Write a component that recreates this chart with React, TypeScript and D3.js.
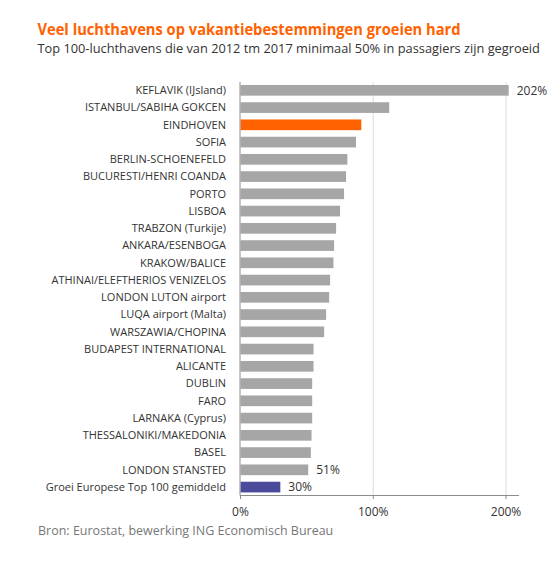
import React from "react";
import * as d3 from "d3";

const categories = [
  "KEFLAVIK (IJsland)",
  "ISTANBUL/SABIHA GOKCEN",
  "EINDHOVEN",
  "SOFIA",
  "BERLIN-SCHOENEFELD",
  "BUCURESTI/HENRI COANDA",
  "PORTO",
  "LISBOA",
  "TRABZON (Turkije)",
  "ANKARA/ESENBOGA",
  "KRAKOW/BALICE",
  "ATHINAI/ELEFTHERIOS VENIZELOS",
  "LONDON LUTON airport",
  "LUQA airport (Malta)",
  "WARSZAWIA/CHOPINA",
  "BUDAPEST INTERNATIONAL",
  "ALICANTE",
  "DUBLIN",
  "FARO",
  "LARNAKA (Cyprus)",
  "THESSALONIKI/MAKEDONIA",
  "BASEL",
  "LONDON STANSTED",
  "Groei Europese Top 100 gemiddeld",
];

const growth = [
  202, 112, 91, 87, 80.5, 79.5, 78, 75, 72, 70.5, 70, 67.5, 66.8, 64.5, 63,
  55, 55, 54, 54, 54, 53.5, 53, 51, 30,
];

const valueLabels: Record<string, string> = {
  "KEFLAVIK (IJsland)": "202%",
  "LONDON STANSTED": "51%",
  "Groei Europese Top 100 gemiddeld": "30%",
};

const xTicks = [0, 100, 200];

const title = "Veel luchthavens op vakantiebestemmingen groeien hard";
const subtitle =
  "Top 100-luchthavens die van 2012 tm 2017 minimaal 50% in passagiers zijn gegroeid";
const source = "Bron: Eurostat, bewerking ING Economisch Bureau";

const FONT = "'Open Sans', sans-serif";
const ORANGE = "#FF6200";
const BLUE = "#4B4B9B";
const GRAY = "#A6A6A6";

export default function App() {
  const W = 549;
  const H = 561;
  const x = d3.scaleLinear().domain([0, 210]).range([240.5, 519.3]);
  const y = d3
    .scaleBand<string>()
    .domain(categories)
    .range([81.7, 495.7])
    .paddingInner(0.38)
    .paddingOuter(0.19);

  const color = (c: string) =>
    c === "EINDHOVEN" ? ORANGE : c.startsWith("Groei") ? BLUE : GRAY;

  return (
    <svg
      width={W}
      height={H}
      style={{ position: "absolute", left: 0, top: 0, background: "#fff" }}
      fontFamily={FONT}
    >
      <text x={37.5} y={34.7} fill={ORANGE} fontSize={16.5} fontWeight={700} textLength={423} lengthAdjust="spacingAndGlyphs">
        {title}
      </text>
      <text x={37.5} y={53.3} fill="#333" fontSize={12.8}>
        {subtitle}
      </text>

      {xTicks.slice(1).map((t) => (
        <line key={t} x1={x(t)} x2={x(t)} y1={82} y2={495.5} stroke="#DDDDDD" strokeWidth={1} />
      ))}

      {categories.map((c, i) => (
        <rect
          key={c}
          x={x(0)}
          y={y(c)!}
          width={x(growth[i]) - x(0)}
          height={y.bandwidth()}
          fill={color(c)}
        />
      ))}

      <line x1={240} x2={240} y1={82} y2={495.5} stroke="#8C8C8C" strokeWidth={1} />
      <line x1={240} x2={519} y1={495.5} y2={495.5} stroke="#8C8C8C" strokeWidth={1} />
      {xTicks.map((t) => (
        <g key={t}>
          <line x1={x(t)} x2={x(t)} y1={495.5} y2={499} stroke="#8C8C8C" />
          <text x={x(t)} y={516} textAnchor="middle" fontSize={12} fill="#333">
            {t + "%"}
          </text>
        </g>
      ))}

      {categories.map((c) => (
        <text
          key={c}
          x={226}
          y={y(c)! + y.bandwidth() / 2}
          dy="0.35em"
          textAnchor="end"
          fontSize={11}
          fill="#333"
        >
          {c}
        </text>
      ))}

      {categories.map((c, i) =>
        valueLabels[c] ? (
          <text
            key={c}
            x={x(growth[i]) + 8}
            y={y(c)! + y.bandwidth() / 2}
            dy="0.35em"
            fontSize={12}
            fill="#333"
          >
            {valueLabels[c]}
          </text>
        ) : null
      )}

      <text x={38} y={535} fontSize={12.5} fill="#777">
        {source}
      </text>
    </svg>
  );
}
